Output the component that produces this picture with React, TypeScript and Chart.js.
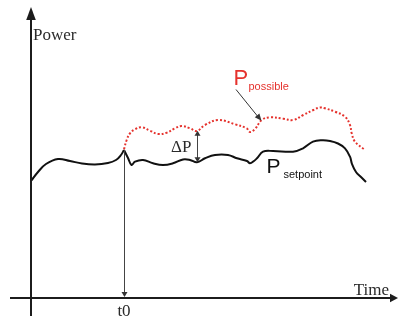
import { useEffect, useRef } from "react";
import { Chart, registerables } from "chart.js";

Chart.register(...registerables);

// Schematic data (time units, power units)
const setpointTime = [0, 7, 15, 27, 39, 51, 64, 77, 85, 90, 93, 97, 100.5, 104, 112, 122, 132, 142, 152, 159, 166, 174, 184, 197, 206, 216, 219, 223, 226, 232, 242, 262, 272, 282, 291, 299, 307, 314, 319, 321, 325, 330, 335];
const setpointPower = [117, 126, 134, 139, 137, 134.5, 133.5, 135, 138, 143, 148, 140, 133, 136.3, 138, 134.7, 133, 134.7, 138.5, 138, 135.7, 139.7, 143, 143, 139.7, 137, 134.7, 137, 139.7, 146.3, 147, 146.3, 149.7, 156.3, 157.7, 157, 154.5, 149.7, 141.3, 134, 126, 121, 116];

const possibleTime = [93, 95.7, 99, 104, 110.7, 119, 127.3, 135.7, 144, 150.7, 159, 165.7, 174, 187.3, 204, 215.7, 219, 224, 230.7, 239, 252.3, 262.3, 272.3, 282.3, 289, 294, 304, 314, 319, 320.7, 324, 334];
const possiblePower = [148.7, 158, 164.7, 168.7, 170.7, 167.3, 164, 165.3, 169.7, 172, 169.7, 167, 173, 178, 173.7, 169.7, 166, 169, 178, 180.7, 179.3, 178, 183, 188, 190.5, 189.7, 186.3, 181.3, 173, 164.7, 156.3, 148];

const t0 = 93;
const deltaPTime = 166;
const xAxisLabel = "Time";
const yAxisLabel = "Power";
const t0Label = "t0";
const deltaLabel = "ΔP";
const possibleMain = "P";
const possibleSub = "possible";
const setpointMain = "P";
const setpointSub = "setpoint";

const RED = "#e5322d";
const INK = "#1c1c1c";

function interp(ts: number[], vs: number[], t: number): number {
  for (let i = 0; i < ts.length - 1; i++) {
    if (t >= ts[i] && t <= ts[i + 1]) {
      const f = (t - ts[i]) / (ts[i + 1] - ts[i]);
      return vs[i] + f * (vs[i + 1] - vs[i]);
    }
  }
  return vs[vs.length - 1];
}

function head(ctx: CanvasRenderingContext2D, x1: number, y1: number, x2: number, y2: number, len: number, half: number) {
  const a = Math.atan2(y2 - y1, x2 - x1);
  const bx = x2 - len * Math.cos(a);
  const by = y2 - len * Math.sin(a);
  ctx.beginPath();
  ctx.moveTo(x2, y2);
  ctx.lineTo(bx + half * Math.sin(a), by - half * Math.cos(a));
  ctx.lineTo(bx - half * Math.sin(a), by + half * Math.cos(a));
  ctx.closePath();
  ctx.fill();
}

const schematicPlugin = {
  id: "schematic",
  afterDatasetsDraw(chart: any) {
    const ctx: CanvasRenderingContext2D = chart.ctx;
    const xs = chart.scales.x;
    const ys = chart.scales.y;
    const px = (t: number) => xs.getPixelForValue(t);
    const py = (p: number) => ys.getPixelForValue(p);
    ctx.save();
    ctx.fillStyle = INK;
    ctx.strokeStyle = INK;
    ctx.lineWidth = 2;
    // Y axis
    const x0 = px(0);
    const y0 = py(0);
    ctx.beginPath();
    ctx.moveTo(x0, py(-18));
    ctx.lineTo(x0, py(278));
    ctx.stroke();
    head(ctx, x0, py(0), x0, py(291), 13, 4.8);
    // X axis
    ctx.beginPath();
    ctx.moveTo(px(-21), y0);
    ctx.lineTo(px(360), y0);
    ctx.stroke();
    head(ctx, px(0), y0, px(367), y0, 8, 4.2);

    // t0 marker
    ctx.lineWidth = 1;
    ctx.strokeStyle = "#444";
    ctx.fillStyle = "#333";
    const xt = Math.round(px(t0)) + 0.5;
    const spikeP = interp(setpointTime, setpointPower, t0);
    ctx.beginPath();
    ctx.moveTo(xt, py(spikeP));
    ctx.lineTo(xt, y0 - 4);
    ctx.stroke();
    head(ctx, xt, py(spikeP), xt, y0 - 1, 5, 3);

    // ΔP double arrow
    const xd = Math.round(px(deltaPTime)) + 0.5;
    const pTop = interp(possibleTime, possiblePower, deltaPTime);
    const pBot = interp(setpointTime, setpointPower, deltaPTime);
    ctx.beginPath();
    ctx.moveTo(xd, py(pTop) + 4);
    ctx.lineTo(xd, py(pBot) - 4);
    ctx.stroke();
    head(ctx, xd, py(pBot), xd, py(pTop), 5, 3);
    head(ctx, xd, py(pTop), xd, py(pBot), 5, 3);

    // pointer to possible curve
    const tipT = 230.5;
    const tipX = px(tipT);
    const tipY = py(interp(possibleTime, possiblePower, tipT)) + 0.5;
    const sx = 236;
    const sy = 89.5;
    ctx.strokeStyle = "#333";
    ctx.beginPath();
    ctx.moveTo(sx, sy);
    ctx.lineTo(tipX - 3, tipY - 3.4);
    ctx.stroke();
    head(ctx, sx, sy, tipX, tipY, 7, 3);

    // Serif labels
    ctx.fillStyle = "#2a2a2a";
    ctx.textBaseline = "alphabetic";
    ctx.font = '17px "Liberation Serif", serif';
    ctx.textAlign = "left";
    ctx.fillText(yAxisLabel, 33, 40);
    ctx.textAlign = "right";
    ctx.fillText(xAxisLabel, 389, 295);
    ctx.textAlign = "center";
    ctx.fillText(t0Label, px(t0), 316);
    ctx.textAlign = "right";
    ctx.fillText(deltaLabel, xd - 6, 151.5);

    // Sans labels
    ctx.textAlign = "left";
    ctx.fillStyle = RED;
    ctx.font = '22px "Liberation Sans", Arial, sans-serif';
    ctx.fillText(possibleMain, 233.5, 85);
    ctx.font = '11px "Liberation Sans", Arial, sans-serif';
    ctx.fillText(possibleSub, 248.5, 89.5);
    ctx.fillStyle = "#111";
    ctx.font = '21px "Liberation Sans", Arial, sans-serif';
    ctx.fillText(setpointMain, 266.5, 173.3);
    ctx.font = '11px "Liberation Sans", Arial, sans-serif';
    ctx.fillText(setpointSub, 283.5, 177.5);
    ctx.restore();
  },
};

export default function App() {
  const ref = useRef<HTMLCanvasElement | null>(null);
  useEffect(() => {
    if (!ref.current) return;
    const toXY = (ts: number[], vs: number[]) => ts.map((t, i) => ({ x: t, y: vs[i] }));
    const all = toXY(setpointTime, setpointPower);
    const before = all.filter((d) => d.x <= t0);
    const after = all.filter((d) => d.x >= t0);
    const chart = new Chart(ref.current, {
      type: "line",
      data: {
        datasets: [
          {
            label: "P possible",
            data: toXY(possibleTime, possiblePower),
            borderColor: RED,
            borderWidth: 2,
            borderDash: [2, 2],
            pointRadius: 0,
            tension: 0.4,
            fill: false,
          },
          {
            label: "P setpoint (before t0)",
            data: before,
            borderColor: "#111",
            borderWidth: 2,
            pointRadius: 0,
            tension: 0.4,
            fill: false,
          },
          {
            label: "P setpoint",
            data: after,
            borderColor: "#111",
            borderWidth: 2,
            pointRadius: 0,
            tension: 0.4,
            fill: false,
          },
        ],
      },
      options: {
        animation: false,
        responsive: false,
        maintainAspectRatio: false,
        layout: { padding: 0 },
        plugins: { legend: { display: false }, tooltip: { enabled: false } },
        scales: {
          x: { type: "linear", min: -31, max: 367, display: false },
          y: { type: "linear", min: -23, max: 298, display: false },
        },
      },
      plugins: [schematicPlugin],
    });
    return () => chart.destroy();
  }, []);
  return (
    <div style={{ position: "absolute", left: 0, top: 0, width: 398, height: 321, background: "#fff" }}>
      <canvas ref={ref} width={398} height={321} style={{ display: "block", width: 398, height: 321 }} />
    </div>
  );
}
